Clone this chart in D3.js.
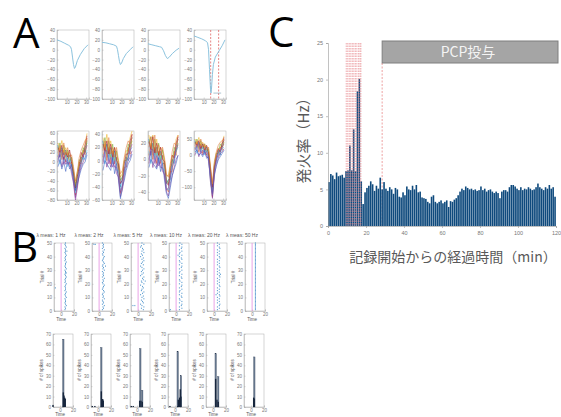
<!DOCTYPE html>
<html>
<head>
<meta charset="utf-8">
<script src="https://cdn.jsdelivr.net/npm/d3@7"></script>
<style>
body { margin: 0; background: #fff; }
svg { display: block; font-family: "Liberation Sans", Arial, sans-serif; }
.small .tick text { fill: #777; font-size: 4.5px; }
.small .domain, .small .tick line { stroke: #aaa; stroke-width: 0.5; }
.cax .tick text { fill: #777; font-size: 5.5px; }
.cax .domain, .cax .tick line { stroke: #999; stroke-width: 0.6; }
</style>
</head>
<body>
<svg id="fig" width="561" height="417"></svg>
<script>
// ---------- data ----------
// panel C: firing rate per 1-min bin (Hz), 0..119 min
var rateValues = [
  6.0, 7.1, 6.9, 6.4, 7.3, 6.8, 6.9, 7.0, 6.6, 7.5,
  7.6, 11.0, 7.6, 13.2, 7.5, 18.4, 20.1, 6.1, 3.0, 4.6,
  5.2, 5.5, 6.1, 5.7, 4.8, 5.5, 5.1, 6.6, 5.0, 6.0,
  5.1, 4.8, 5.3, 5.0, 4.4, 5.2, 5.0, 4.0, 3.9, 4.6,
  4.2, 5.4, 5.0, 4.9, 5.5, 5.0, 5.6, 4.6, 4.7, 3.9,
  3.8, 3.7, 3.3, 3.1, 4.0, 4.2, 3.3, 3.1, 3.3, 3.5,
  3.1, 3.3, 3.5, 2.6, 3.4, 3.3, 3.6, 3.8, 4.2, 4.7,
  5.1, 4.9, 5.4, 5.2, 5.0, 5.1, 4.9, 5.0, 4.8, 4.9,
  5.4, 4.9, 5.1, 4.7, 4.9, 5.0, 4.7, 4.5, 4.7, 4.5,
  3.8, 4.7, 4.9, 4.9, 4.7, 5.3, 5.6, 5.6, 5.4, 5.1,
  4.9, 5.3, 4.9, 5.1, 5.0, 5.3, 5.1, 4.9, 5.0, 5.3,
  5.8, 5.3, 5.1, 4.9, 5.3, 5.1, 5.6, 5.1, 5.3, 4.0
];
var rateTicksX = [0, 20, 40, 60, 80, 100, 120];
var rateTicksY = [0, 5, 10, 15, 20, 25];
var burstMarks = [9.6, 10.4, 11.2, 12.0, 12.8, 13.6, 14.4, 15.2, 16.0, 16.8, 17.3];
var pcpStart = 28.5;
var pcpLabel = "PCP投与";
var rateYLabel = "発火率（Hz）";
var rateXLabel = "記録開始からの経過時間（min）";

// panel A, top row: mean waveform of each unit [sample, uV]
var meanWave = [
  [[0,20],[4,17],[8,13],[12,9],[14,6],[15,0],[16,-15],[17,-30],[18,-38],[19,-35],[21,-22],[24,-10],[28,2],[32,10]],
  [[0,15],[4,14],[8,12],[12,10],[15,7],[16,0],[17,-12],[18,-24],[19,-30],[20,-28],[22,-18],[25,-8],[29,0],[32,6]],
  [[0,12],[4,10],[8,8],[12,6],[14,5],[16,-2],[18,-12],[20,-18],[22,-15],[25,-8],[29,-1],[32,3]],
  [[0,28],[4,25],[8,22],[12,18],[14,14],[15,0],[16,-40],[17,-80],[17.5,-88],[18,-80],[19,-50],[20,-30],[22,-15],[25,-5],[29,8],[32,20]]
];
var meanTicksY = [-100, -80, -60, -40, -20, 0, 20, 40];
var waveTicksX = [10, 20, 30];
var cutLines = [17.2, 25.4];

// panel A, bottom row: overlaid single spikes, sampled at waveSamples
var waveSamples = [1, 3, 5, 7, 9, 11, 13, 15, 17, 19, 21, 23, 25, 27, 29, 31];
var spikes1 = [
  [35,10,30,15,25,5,15,-10,-20,-60,-30,-20,10,5,30,40],
  [10,30,5,25,0,20,-5,0,-35,-70,-45,0,-5,25,15,50],
  [40,25,45,20,30,15,20,5,-15,-45,-20,-5,15,20,40,60],
  [0,15,-10,10,-5,0,-10,-15,-40,-75,-50,-25,-10,0,10,20],
  [25,40,15,35,10,25,0,10,-20,-50,-25,5,0,30,20,45],
  [15,-5,20,0,15,-10,5,-20,-30,-65,-40,-15,-5,10,5,25],
  [30,20,35,5,20,10,25,0,-25,-55,-30,-10,20,10,35,55],
  [-10,5,-15,0,-20,5,-15,-5,-40,-60,-45,-30,-15,-5,0,15],
  [20,35,10,40,15,30,10,15,-10,-40,-20,10,25,35,45,50],
  [5,20,25,-5,5,-5,0,-25,-45,-80,-55,-20,0,15,20,35]
];
var spikes2 = [
  [30,10,25,5,20,0,15,-5,-5,-40,-25,-20,5,0,25,35],
  [5,25,0,20,-5,15,-5,5,-20,-50,-40,-10,-10,20,10,40],
  [35,20,40,15,30,10,20,10,0,-25,-20,0,15,15,35,45],
  [-5,10,-10,5,-10,0,-10,-10,-25,-55,-45,-25,-10,0,5,15],
  [20,35,10,30,5,25,0,15,-10,-30,-25,0,0,25,20,30],
  [10,-5,20,0,15,-5,10,-15,-15,-45,-35,-20,-5,5,15,20],
  [25,15,30,10,25,5,20,0,-5,-35,-30,-5,10,10,30,40],
  [-15,0,-5,-10,-15,5,-20,-5,-30,-58,-40,-30,-15,-5,0,10],
  [15,30,5,35,10,20,5,20,0,-20,-15,5,20,30,25,35],
  [0,15,15,-5,5,-10,0,-20,-25,-48,-38,-15,0,5,15,25]
];
var spikes3 = [
  [25,5,20,5,15,0,10,-5,-5,-30,-25,-25,0,-5,15,25],
  [5,20,0,15,-5,10,-5,5,-15,-35,-40,-15,-15,10,5,30],
  [30,15,30,10,25,5,15,10,0,-20,-20,-5,5,5,25,30],
  [-5,10,-10,5,-10,0,-10,-10,-20,-40,-45,-30,-20,-10,0,5],
  [20,28,10,25,5,20,0,12,-5,-25,-30,-10,-5,15,10,20],
  [10,-5,15,0,12,-5,8,-12,-12,-35,-38,-25,-10,0,10,15],
  [22,12,28,8,20,5,15,0,-2,-28,-32,-15,5,2,20,28],
  [-10,0,-5,-8,-12,2,-15,-5,-25,-42,-48,-35,-20,-12,-5,5],
  [15,28,5,30,8,18,5,15,2,-18,-22,-8,10,20,18,25],
  [0,12,12,-5,5,-8,0,-15,-18,-38,-35,-22,-10,0,12,18]
];
var spikes4 = [
  [45,20,40,15,35,10,25,0,-50,-115,-35,-20,15,0,35,45],
  [20,40,10,35,5,30,0,10,-75,-130,-55,-5,-5,25,15,50],
  [50,35,55,30,40,25,30,15,-40,-95,-25,5,20,20,40,60],
  [0,20,-5,15,0,10,-5,-10,-85,-135,-65,-30,-10,5,10,20],
  [35,50,25,45,20,35,10,20,-55,-105,-30,5,5,35,25,40],
  [25,5,30,10,25,0,20,-15,-70,-125,-50,-20,0,10,20,25],
  [40,30,45,20,35,15,30,5,-45,-100,-40,-5,20,10,35,55],
  [10,15,0,5,-5,15,-10,-5,-80,-120,-60,-35,-15,-5,5,15],
  [30,45,20,50,25,35,15,25,-35,-90,-20,10,30,40,45,50],
  [15,30,35,5,15,5,10,-20,-65,-128,-45,-15,5,15,25,35]
];
var spikeDomains = [[-80, 65], [-60, 45], [-50, 35], [-140, 75]];
var spikeTicks = [[-80, -60, -40, -20, 0, 20, 40, 60], [-60, -40, -20, 0, 20, 40], [-40, -20, 0, 20], [-100, -50, 0, 50]];
var traceColors = ["#0072BD", "#D95319", "#EDB120", "#7E2F8E", "#77AC30", "#4DBEEE", "#A2142F", "#3b5fc0", "#e07b39", "#8a3fa0"];

// panel B, top row: spike time in each trial (trial = index + 1)
var rasterRates = ["1 Hz", "2 Hz", "5 Hz", "10 Hz", "20 Hz", "50 Hz"];
var rasterTimes = [
  [6,7,6,8,7,6,7,7,6,8,7,6,7,8,6,7,7,6,7,8,6,7,6,7,8,7,6,7,7,6,8,7,6,7,7,8,6,7,6,7,8,7,6,7,7,6,8,7,6,7],
  [5,7,6,8,5,7,6,5,8,6,7,5,6,8,7,5,6,7,8,6,5,7,6,8,5,7,6,7,5,8,6,7,5,6,8,7,5,6,7,8,6,5,7,6,8,5,7,6,7,5],
  [8,5,9,6,4,8,7,5,9,6,8,4,7,9,5,6,8,7,4,9,6,5,8,7,9,4,6,8,5,7,9,6,4,8,5,7,9,6,8,4,7,5,9,6,8,7,4,5,9,6],
  [5,9,5,8,9,5,9,6,5,9,8,5,9,5,6,9,5,8,9,5,9,6,5,9,8,5,9,5,6,9,5,8,9,5,9,6,5,9,8,5,9,5,6,9,5,8,9,5,9,6],
  [5,8,5,8,9,5,8,5,8,5,9,8,5,8,5,8,5,9,8,5,8,5,8,5,9,8,5,8,5,8,5,9,8,5,8,5,8,5,9,8,5,8,5,8,5,9,8,5,8,5],
  [5,5,5,5,5,5,5,5,5,5,5,5,5,5,5,5,5,5,5,5,5,5,5,5,5,5,5,5,5,5,5,5,5,5,5,5,5,5,5,5,5,5,5,5,5,5,5,5,5,5]
];
var rasterExtra = [
  [[-9, 17], [9, 44], [8, 28]],
  [[-8, 49], [-6, 49], [10, 33]],
  [[-8, 4], [-5, 4], [11, 22]],
  [[-9, 1], [3, 41]],
  [[3, 12], [10, 27]],
  []
];
var trialTicks = [0, 10, 20, 30, 40, 50];
var timeTicks = [0, 20];

// panel B, bottom row: spike count per time bin [time, count]
var histLight = [
  [[5, 65]],
  [[5, 57], [7, 7]],
  [[5, 56], [8, 16]],
  [[4, 53], [9, 30]],
  [[4, 51], [8, 29]],
  [[5, 48]]
];
var histDark = [
  [[-11, 2], [5, 14], [6, 11], [7, 9], [8, 8]],
  [[-9, 1], [-5, 1], [5, 15], [7, 7], [8, 6]],
  [[-9, 1], [-6, 1], [4, 6], [6, 6], [8, 5]],
  [[-8, 1], [5, 7], [7, 9], [8, 17], [9, 10]],
  [[4, 27], [6, 7], [8, 5]],
  [[4, 9], [5, 8]]
];
var countTicks = [0, 10, 20, 30, 40, 50, 60, 70];

// ---------- layout ----------
var svg = d3.select("#fig");
var aLefts = [57, 102, 148, 194], aWidth = 32;
var bLefts = [54, 92, 131, 169, 207, 245], bWidth = 20;
var bDomain = [-11, 20];

function frame(g, x, y) {
    var r = x.range(), h = y.range();
    g.append("rect")
        .attr("x", r[0]).attr("y", h[1])
        .attr("width", r[1] - r[0]).attr("height", h[0] - h[1])
        .attr("fill", "none").attr("stroke", "#aaa").attr("stroke-width", 0.5);
}

function axes(g, x, y, xt, yt) {
    g.append("g").attr("class", "small")
        .attr("transform", "translate(0," + y.range()[0] + ")")
        .call(d3.axisBottom(x).tickValues(xt).tickSize(-1.5).tickPadding(2));
    g.append("g").attr("class", "small")
        .attr("transform", "translate(" + x.range()[0] + ",0)")
        .call(d3.axisLeft(y).tickValues(yt).tickSize(-1.5).tickPadding(2));
}

// ---------- panel letters ----------
var letters = [["A", 13, 48], ["B", 11, 262], ["C", 268, 47]];
svg.selectAll(".letter").data(letters).enter().append("text")
    .attr("class", "letter")
    .attr("x", function(d) { return d[1]; })
    .attr("y", function(d) { return d[2]; })
    .style("font-family", "'Open Sans', 'Liberation Sans', sans-serif")
    .style("font-size", "42px")
    .attr("fill", "#000")
    .text(function(d) { return d[0]; });

// ---------- panel A ----------
meanWave.forEach(function(w, i) {
    var g = svg.append("g");
    var x = d3.scaleLinear().domain([0, 33]).range([aLefts[i], aLefts[i] + aWidth]);
    var y = d3.scaleLinear().domain([-100, 40]).range([99, 30]);
    frame(g, x, y);
    axes(g, x, y, waveTicksX, meanTicksY);
    if (i == 3) {
        g.selectAll(".cut").data(cutLines).enter().append("line")
            .attr("x1", function(d) { return x(d); }).attr("x2", function(d) { return x(d); })
            .attr("y1", y(40)).attr("y2", y(-100))
            .attr("stroke", "#e06666").attr("stroke-width", 0.8).attr("stroke-dasharray", "2,1.5");
        g.append("line")
            .attr("x1", x(20)).attr("x2", x(28)).attr("y1", y(-88)).attr("y2", y(-88))
            .attr("stroke", "#8ab").attr("stroke-width", 0.7);
    }
    g.append("path").datum(w)
        .attr("fill", "none").attr("stroke", "#8cc3de").attr("stroke-width", 1)
        .attr("d", d3.line().x(function(d) { return x(d[0]); }).y(function(d) { return y(d[1]); }));
});

[spikes1, spikes2, spikes3, spikes4].forEach(function(set, i) {
    var g = svg.append("g");
    var x = d3.scaleLinear().domain([0, 33]).range([aLefts[i], aLefts[i] + aWidth]);
    var y = d3.scaleLinear().domain(spikeDomains[i]).range([200, 131]);
    axes(g, x, y, waveTicksX, spikeTicks[i]);
    frame(g, x, y);
    var line = d3.line()
        .x(function(d, k) { return x(waveSamples[k]); })
        .y(function(d) { return y(d); });
    g.selectAll(".trace").data(set).enter().append("path")
        .attr("fill", "none")
        .attr("stroke", function(d, k) { return traceColors[k % traceColors.length]; })
        .attr("stroke-width", 0.7).attr("opacity", 0.8)
        .attr("d", line);
});

// ---------- panel B rasters ----------
rasterTimes.forEach(function(times, i) {
    var g = svg.append("g");
    var x = d3.scaleLinear().domain(bDomain).range([bLefts[i], bLefts[i] + bWidth]);
    var y = d3.scaleLinear().domain([0, 50]).range([311, 243]);
    frame(g, x, y);
    axes(g, x, y, timeTicks, trialTicks);
    g.append("line")
        .attr("x1", x(0)).attr("x2", x(0)).attr("y1", y(0)).attr("y2", y(50))
        .attr("stroke", "#e58be0").attr("stroke-width", 0.8);
    var pts = times.map(function(t, k) { return [t, k + 1]; }).concat(rasterExtra[i]);
    g.selectAll(".sp").data(pts).enter().append("rect")
        .attr("x", function(d) { return x(d[0]) - 0.4; })
        .attr("y", function(d) { return y(d[1]) - 0.6; })
        .attr("width", 0.8).attr("height", 1.2)
        .attr("fill", "#3584c4");
    g.append("text")
        .attr("x", bLefts[i] - 3).attr("y", 237)
        .attr("text-anchor", "middle")
        .style("font-size", "5px").attr("fill", "#555")
        .text("λ meas: " + rasterRates[i]);
    g.append("text")
        .attr("transform", "translate(" + (bLefts[i] - 10) + ",277) rotate(-90)")
        .attr("text-anchor", "middle")
        .style("font-size", "4.5px").attr("fill", "#555")
        .text("Trial #");
    g.append("text")
        .attr("x", x(0)).attr("y", 321)
        .attr("text-anchor", "middle")
        .style("font-size", "4.5px").attr("fill", "#555")
        .text("Time");
});

// ---------- panel B histograms ----------
histLight.forEach(function(light, i) {
    var g = svg.append("g");
    var left = bLefts[i] - 1;
    var x = d3.scaleLinear().domain(bDomain).range([left, left + bWidth]);
    var y = d3.scaleLinear().domain([0, 70]).range([407, 334]);
    frame(g, x, y);
    axes(g, x, y, timeTicks, countTicks);
    g.selectAll(".hl").data(light).enter().append("rect")
        .attr("x", function(d) { return x(d[0]) - 0.7; })
        .attr("y", function(d) { return y(d[1]); })
        .attr("width", 1.4)
        .attr("height", function(d) { return y(0) - y(d[1]); })
        .attr("fill", "#6e7f96").attr("stroke", "#1b2b44").attr("stroke-width", 0.3);
    g.selectAll(".hd").data(histDark[i]).enter().append("rect")
        .attr("x", function(d) { return x(d[0]) - 0.7; })
        .attr("y", function(d) { return y(d[1]); })
        .attr("width", 1.4)
        .attr("height", function(d) { return y(0) - y(d[1]); })
        .attr("fill", "#17263d");
    g.append("text")
        .attr("transform", "translate(" + (left - 10) + ",370) rotate(-90)")
        .attr("text-anchor", "middle")
        .style("font-size", "4.5px").attr("fill", "#555")
        .text("# of spikes");
    g.append("text")
        .attr("x", x(0)).attr("y", 416)
        .attr("text-anchor", "middle")
        .style("font-size", "4.5px").attr("fill", "#555")
        .text("Time");
});

// ---------- panel C ----------
var cX = d3.scaleLinear().domain([0, 120]).range([328, 556]);
var cY = d3.scaleLinear().domain([0, 25]).range([226, 43]);
var cg = svg.append("g");

cg.append("line")
    .attr("x1", cX(pcpStart)).attr("x2", cX(pcpStart))
    .attr("y1", 63).attr("y2", cY(0))
    .attr("stroke", "#e88a8a").attr("stroke-width", 0.8).attr("stroke-dasharray", "2,1.5");

cg.selectAll(".bar").data(rateValues).enter().append("rect")
    .attr("class", "bar")
    .attr("x", function(d, i) { return cX(i) + 0.15; })
    .attr("width", cX(1) - cX(0) - 0.3)
    .attr("y", function(d) { return cY(d); })
    .attr("height", function(d) { return cY(0) - cY(d); })
    .attr("fill", "#0f4a7d");

cg.selectAll(".burst").data(burstMarks).enter().append("line")
    .attr("x1", function(d) { return cX(d); }).attr("x2", function(d) { return cX(d); })
    .attr("y1", cY(25)).attr("y2", cY(0))
    .attr("stroke", "#e8868c").attr("stroke-width", 0.8).attr("stroke-dasharray", "1.5,1")
    .attr("opacity", 0.85);

cg.append("g").attr("class", "cax")
    .attr("transform", "translate(0," + cY(0) + ")")
    .call(d3.axisBottom(cX).tickValues(rateTicksX).tickSize(2).tickPadding(3));
cg.append("g").attr("class", "cax")
    .attr("transform", "translate(" + cX(0) + ",0)")
    .call(d3.axisLeft(cY).tickValues(rateTicksY).tickSize(2).tickPadding(3));

cg.append("rect")
    .attr("x", cX(pcpStart)).attr("y", 41)
    .attr("width", 558 - cX(pcpStart)).attr("height", 22)
    .attr("fill", "#a5a5a5").attr("stroke", "#7f7f7f").attr("stroke-width", 1);
cg.append("text")
    .attr("x", 468).attr("y", 57)
    .attr("text-anchor", "middle")
    .style("font-family", "'Noto Sans CJK JP', sans-serif")
    .style("font-size", "14px").attr("fill", "#f4f4f4")
    .text(pcpLabel);

cg.append("text")
    .attr("transform", "translate(309,137) rotate(-90)")
    .attr("text-anchor", "middle")
    .style("font-family", "'Noto Sans CJK JP', sans-serif")
    .style("font-size", "15px").attr("fill", "#595959")
    .text(rateYLabel);
cg.append("text")
    .attr("x", 453).attr("y", 262)
    .attr("text-anchor", "middle")
    .style("font-family", "'Noto Sans CJK JP', sans-serif")
    .style("font-size", "14px").attr("fill", "#595959")
    .text(rateXLabel);
</script>
</body>
</html>
